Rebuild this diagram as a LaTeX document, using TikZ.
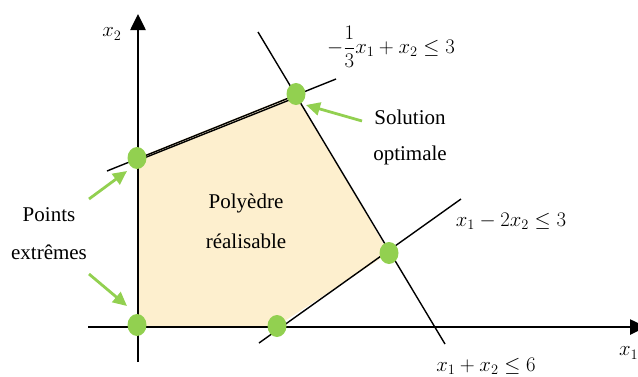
\documentclass[tikz,border=0pt]{standalone}
\usepackage{amsmath}
\usepackage{fontspec}
\setmainfont{Liberation Serif}
\usetikzlibrary{shapes.geometric,arrows.meta}
\definecolor{feas}{RGB}{253,239,206}
\definecolor{vgreen}{RGB}{146,208,80}
\begin{document}
\begin{tikzpicture}[x=1pt,y=-1pt,
  axis/.style={line width=2.6pt},
  cline/.style={line width=1.4pt},
  vertex/.style={ellipse,fill=vgreen,minimum width=19pt,minimum height=22pt,inner sep=0pt},
  garrow/.style={vgreen,line width=2.8pt,-{Triangle[width=13pt,length=14pt]}},
  lbl/.style={font=\fontsize{21}{25}\selectfont,inner sep=0pt},
  mlbl/.style={font=\fontsize{21}{25}\selectfont,inner sep=0pt}]
\path[use as bounding box] (0,0) rectangle (638,376);
% feasible region
\fill[feas] (137,158) -- (296,94) -- (389,253) -- (277,326) -- (137,326) -- cycle;
% constraint lines
\coordinate (l1a) at (107,171);
\coordinate (l1b) at (336,79);
\coordinate (l2a) at (258,32);
\coordinate (l2b) at (445,344);
\coordinate (l3a) at (259,343);
\coordinate (l3b) at (461,199);
\draw[cline] (l1a) -- (l1b);
\draw[cline] (139,160) -- (297,97);
\draw[cline] (l2a) -- (l2b);
\draw[cline] (l3a) -- (l3b);
% axes
\coordinate (o1) at (88,327);
\coordinate (xe) at (646,327);
\coordinate (o2) at (138,362);
\coordinate (ye) at (138,14);
\draw[axis,-{Triangle[width=15pt,length=16pt]}] (o1) -- (xe);
\draw[axis,-{Triangle[width=15pt,length=16pt]}] (o2) -- (ye);
\node[mlbl] (x2) at (112,34) {$x_2$};
\node[mlbl,anchor=west] (x1) at (619,353) {$x_1$};
% vertices
\node[vertex] (A) at (137,158) {};
\node[vertex] (B) at (296,94) {};
\node[vertex] (C) at (389,253) {};
\node[vertex] (D) at (277,326) {};
\node[vertex] (O) at (137,325) {};
% constraint labels
\node[mlbl] (c1) at (391,47) {$-\dfrac{1}{3}x_1+x_2\leq 3$};
\node[mlbl] (c3) at (511,221) {$x_1-2x_2\leq 3$};
\node[mlbl] (c2) at (486,366) {$x_1+x_2\leq 6$};
% text labels
\node[lbl] (sol) at (410,117) {Solution};
\node[lbl] (opt) at (410,155) {optimale};
\node[lbl] (pol) at (246,203) {Polyèdre};
\node[lbl] (rea) at (246,241) {réalisable};
\node[lbl] (pts) at (49,215) {Points};
\node[lbl] (ext) at (49,252) {extrêmes};
% green arrows
\coordinate (g1) at (362,121);
\coordinate (g2) at (89,199);
\coordinate (g3) at (89,274);
\draw[garrow] (g1) -- (306,105);
\draw[garrow] (g2) -- (127,171);
\draw[garrow] (g3) -- (127,306);
\end{tikzpicture}
\end{document}
